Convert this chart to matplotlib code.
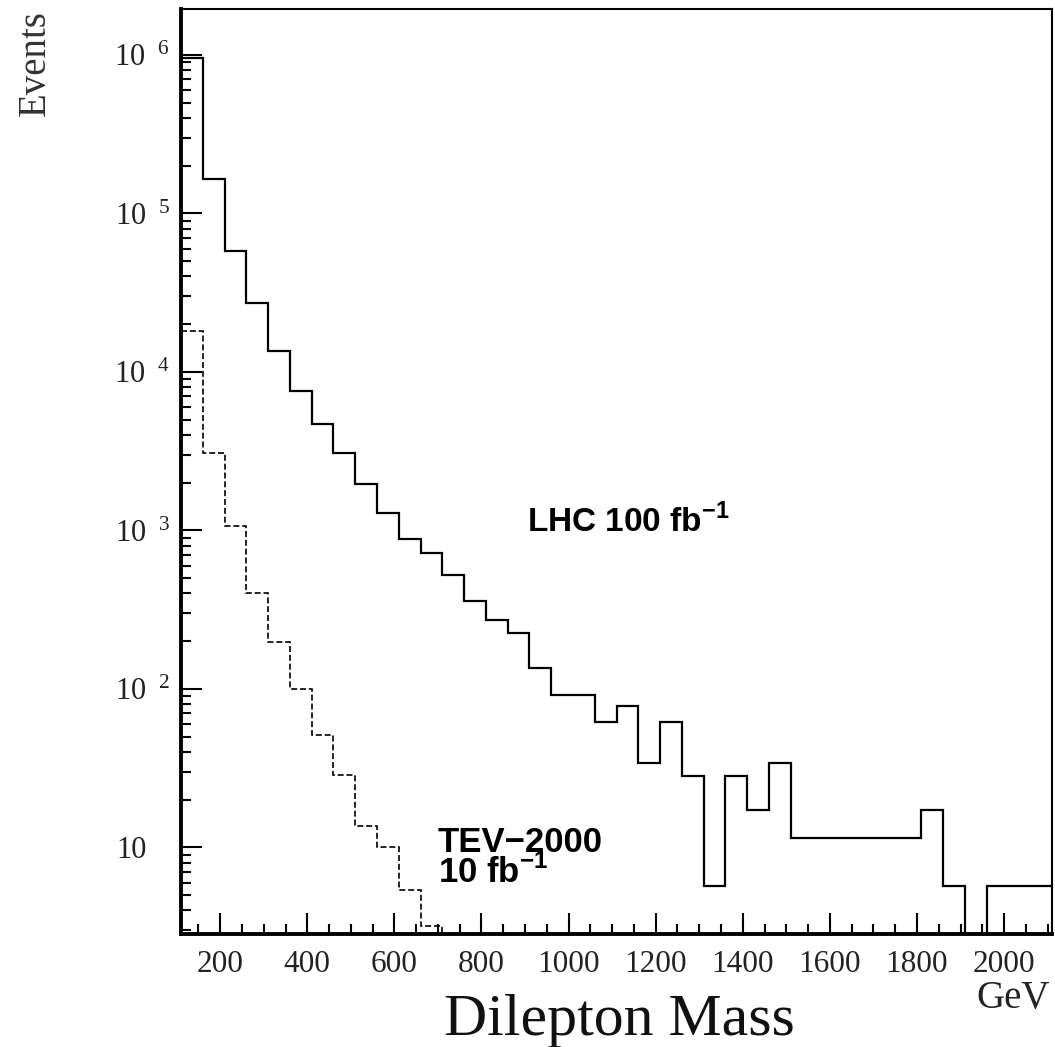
import matplotlib
matplotlib.use("Agg")
import matplotlib.pyplot as plt
from matplotlib.ticker import MultipleLocator, LogLocator, NullFormatter

# histogram binning: 40 bins of 50 GeV
bin_lo = 110
bin_width = 50
n_bins = 40

# LHC 100 fb^-1 (events per bin)
lhc_events = [9.6e5, 1.64e5, 5.8e4, 2.71e4, 1.36e4, 7600, 4690, 3090, 1964, 1283,
              879, 718, 523, 360, 272, 226, 135, 91, 91, 61.5,
              78.3, 34.2, 61.5, 28.3, 5.73, 28.3, 17.1, 34.3, 11.5, 11.5,
              11.5, 11.5, 11.5, 11.5, 17.1, 5.73, 0, 5.73, 5.73, 5.73]

# TEV-2000 10 fb^-1
tev_events = [1.8e4, 3060, 1067, 401, 199, 99.4, 51.2, 28.7, 13.7, 10.1,
              5.4, 3.2, 0, 0, 0, 0, 0, 0, 0, 0,
              0, 0, 0, 0, 0, 0, 0, 0, 0, 0,
              0, 0, 0, 0, 0, 0, 0, 0, 0, 0]

x_ticks = [200, 400, 600, 800, 1000, 1200, 1400, 1600, 1800, 2000]
y_ticks = [10, 1e2, 1e3, 1e4, 1e5, 1e6]
y_labels = ["10", r"$\mathregular{10^{\ \;2}}$",
            r"$\mathregular{10^{\ \;3}}$", r"$\mathregular{10^{\ \;4}}$",
            r"$\mathregular{10^{\ \;5}}$", r"$\mathregular{10^{\ \;6}}$"]

edges = [bin_lo + bin_width * i for i in range(n_bins + 1)]

serif = "Liberation Serif"
sans = "Liberation Sans"

fig = plt.figure(figsize=(10.55, 10.47), dpi=100)
ax = fig.add_axes([181 / 1055, (1047 - 934.3) / 1047, 871 / 1055, 925 / 1047])

ax.stairs(lhc_events, edges, baseline=None, color="black", lw=1.6)
ax.stairs(tev_events, edges, baseline=None, color="black", lw=1.2,
          linestyle=(0, (3.6, 1.7)))

ax.set_yscale("log")
ax.set_xlim(edges[0], edges[-1])
ax.set_ylim(2.83, 1.94e6)

ax.set_xticks(x_ticks)
ax.set_xticklabels([str(t) for t in x_ticks], fontfamily=serif, fontsize=22.5,
                   color="#222222")
ax.xaxis.set_minor_locator(MultipleLocator(50))
ax.set_yticks(y_ticks)
ax.set_yticklabels(y_labels, fontfamily=serif, fontsize=22, color="#222222")
ax.yaxis.set_minor_locator(LogLocator(base=10, subs=range(2, 10), numticks=20))
ax.yaxis.set_minor_formatter(NullFormatter())

ax.tick_params(which="major", direction="in", length=15, width=1.5,
               top=False, right=False)
ax.tick_params(which="minor", direction="in", length=7, width=1.5,
               top=False, right=False)
ax.tick_params(axis="x", pad=11)
ax.tick_params(axis="y", pad=8)
# the bare "10" sits where the other mantissas sit, not flush with the axis
ax.yaxis.get_major_ticks()[0].set_pad(25)

for side in ["left", "bottom"]:
    ax.spines[side].set_linewidth(2.8)
for side in ["top", "right"]:
    ax.spines[side].set_linewidth(1.5)

ax.text(0.397, 0.435, r"LHC 100 fb$^{\mathregular{-1}}$", transform=ax.transAxes,
        fontfamily=sans, fontweight="bold", fontsize=24, va="baseline")
ax.text(0.295, 0.117, "TEV\u22122000\n" + r"10 fb$^{\mathregular{-1}}$",
        transform=ax.transAxes, fontfamily=sans, fontweight="bold",
        fontsize=25, va="top", linespacing=0.85)

fig.text(619 / 1055, (1047 - 1035) / 1047, "Dilepton Mass", fontfamily=serif,
         fontsize=43, ha="center", va="baseline", color="#111111")
fig.text(1050 / 1055, (1047 - 1008) / 1047, "GeV", fontfamily=serif,
         fontsize=28, ha="right", va="baseline", color="#222222")
fig.text(35 / 1055, 1 - 10 / 1047, "Events", fontfamily=serif, fontsize=28,
         rotation=90, ha="center", va="top", color="#333333")

fig.savefig("out.png", dpi=100, facecolor="white")
